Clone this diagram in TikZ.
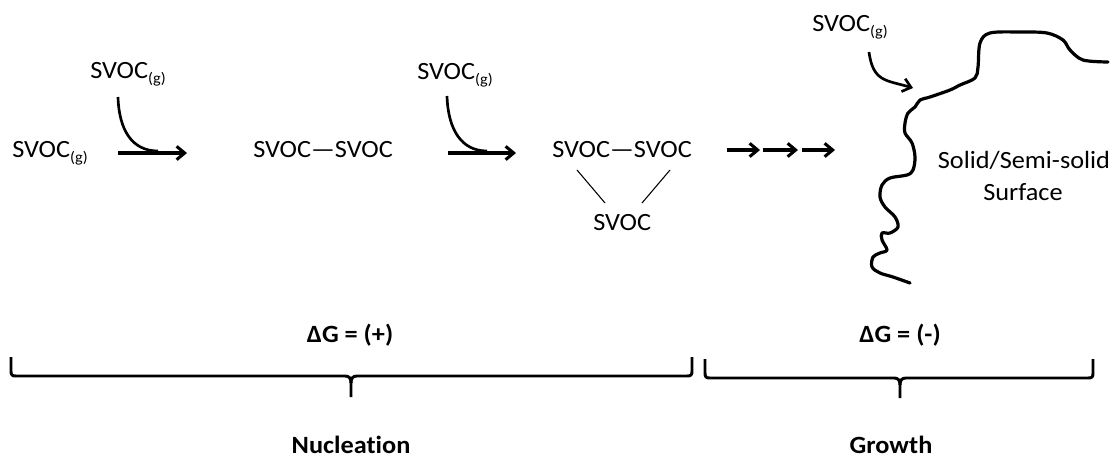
\documentclass[tikz,border=0pt]{standalone}
\usepackage{fontspec}
\setmainfont{Carlito}[FakeStretch=1.06, Ligatures={TeX,NoCommon}]
\usetikzlibrary{arrows.meta}
\newcommand{\gsubs}{\raisebox{-4pt}{\fontsize{11.5}{12}\selectfont(g)}}
\begin{document}
\begin{tikzpicture}[x=0.75pt,y=-0.75pt,
  txt/.style={inner sep=0pt, font=\fontsize{18.6}{22}\selectfont},
  btxt/.style={inner sep=0pt, font=\fontsize{18.6}{22}\selectfont\bfseries},
  tip/.style={-{Straight Barb[length=6pt,width=10pt]}},
  arr/.style={line width=2.3pt, tip},
  curv/.style={line width=2pt},
  thinline/.style={line width=0.8pt},
  brace/.style={line width=2.2pt, line join=round},
  surface/.style={line width=2.4pt, line join=round, line cap=round}
]
\useasboundingbox (0,0) rectangle (1112,458);

% text nodes
\node[txt, anchor=base west] (g0) at (12,157) {SVOC\gsubs};
\node[txt, anchor=base west] (g1) at (90,78) {SVOC\gsubs};
\node[txt, anchor=base west] (g2) at (417,79) {SVOC\gsubs};
\node[txt, anchor=base west] (g3) at (812,31) {SVOC\gsubs};
\node[txt, anchor=base west] (d1) at (253,157) {SVOC---SVOC};
\node[txt, anchor=base west] (d2) at (552,157) {SVOC---SVOC};
\node[txt, anchor=base west] (s3) at (593,230) {SVOC};
\node[txt, anchor=base] (surf1) at (1024,168) {Solid/Semi-solid};
\node[txt, anchor=base] (surf2) at (1023,200) {Surface};
\node[btxt, anchor=base] (dgp) at (350,342) {ΔG = (+)};
\node[btxt, anchor=base] (dgm) at (900,342) {ΔG = (-)};
\node[btxt, anchor=base] (nuc) at (351,453) {Nucleation};
\node[btxt, anchor=base] (gro) at (891,453) {Growth};

% reaction arrows
\coordinate (a1s) at (118,153); \coordinate (a1e) at (187,153);
\coordinate (c1s) at (118,97);  \coordinate (c1e) at (158,151);
\draw[arr] (a1s) -- (a1e);
\draw[curv] (c1s) .. controls (119,130) and (132,151) .. (c1e);

\coordinate (a2s) at (448,153); \coordinate (a2e) at (516,153);
\coordinate (c2s) at (447,96);  \coordinate (c2e) at (487,151);
\draw[arr] (a2s) -- (a2e);
\draw[curv] (c2s) .. controls (448,129) and (461,151) .. (c2e);

\coordinate (m1s) at (727,150); \coordinate (m1e) at (760,150);
\coordinate (m2s) at (763,150); \coordinate (m2e) at (798,150);
\coordinate (m3s) at (802,150); \coordinate (m3e) at (835,150);
\draw[arr] (m1s) -- (m1e);
\draw[arr] (m2s) -- (m2e);
\draw[arr] (m3s) -- (m3e);

\coordinate (c3s) at (869,52); \coordinate (c3e) at (913,88);
\draw[curv, tip] (c3s) .. controls (873,82) and (886,80) .. (c3e);

% triangle bonds
\coordinate (t1a) at (577,170); \coordinate (t1b) at (605,203);
\coordinate (t2a) at (670,170); \coordinate (t2b) at (642,203);
\draw[thinline] (t1a) -- (t1b);
\draw[thinline] (t2a) -- (t2b);

% surface
\draw[surface] plot[smooth, tension=0.55] coordinates {
 (1108,62) (1083,60) (1070,50) (1063,40) (1047,33) (1020,32) (990,33) (980,43)
 (978,67) (975,78) (960,85) (950,90) (930,97) (920,100) (915,107) (908,113)
 (905,123) (905,133) (912,143) (915,157) (913,170) (907,175) (890,178) (882,185)
 (880,197) (885,207) (895,217) (898,227) (890,233) (882,233) (882,240) (887,250)
 (880,253) (873,257) (872,267) (880,273) (893,277) (910,283)};

% braces
\draw[brace] (11,357) -- (11,371) .. controls (11,375) and (12,376) .. (16,376)
  -- (345,376) .. controls (349,376) and (351,378) .. (351,383) -- (351,397);
\draw[brace] (351,383) .. controls (351,378) and (353,376) .. (357,376)
  -- (687,376) .. controls (691,376) and (692,375) .. (692,371) -- (692,357);

\draw[brace] (705,359) -- (705,373) .. controls (705,377) and (706,378) .. (710,378)
  -- (894,378) .. controls (898,378) and (900,380) .. (900,385) -- (900,398);
\draw[brace] (900,385) .. controls (900,380) and (902,378) .. (906,378)
  -- (1088,378) .. controls (1092,378) and (1093,377) .. (1093,373) -- (1093,359);
\end{tikzpicture}
\end{document}
